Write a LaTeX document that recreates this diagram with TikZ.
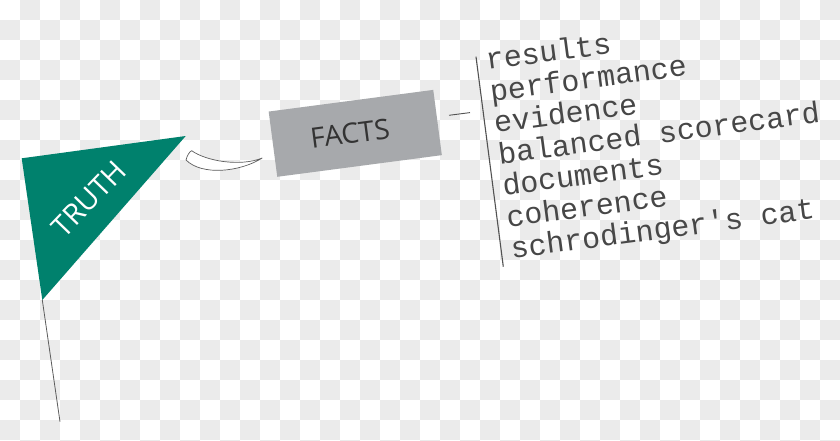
\documentclass[tikz,border=0pt]{standalone}
\usepackage{fontspec}
\setmainfont{Open Sans}
\newfontfamily\listfont{Liberation Mono}[Ligatures=TeXOff]
\definecolor{teal}{HTML}{00816D}
\definecolor{boxgray}{HTML}{A7A9AC}
\definecolor{checker}{HTML}{EBEBEB}
\definecolor{ink}{HTML}{333333}
\tikzset{
  listline/.style={anchor=base west, inner sep=0pt, text=ink!90, transform shape,
    font=\listfont\fontsize{30}{31}\selectfont},
  thinline/.style={draw=ink!85, line width=0.9pt},
}
\begin{document}
\begin{tikzpicture}[x=1pt,y=-1pt]
\useasboundingbox (0,0) rectangle (840,441);
% checkerboard background
\fill[white] (0,0) rectangle (840,441);
\begin{scope}
\clip (0,0) rectangle (840,441);
\foreach \i in {0,...,41}{
  \foreach \j in {0,...,22}{
    \ifodd\numexpr\i+\j\relax
      \fill[checker] (\i*20,\j*20) rectangle ++(20,20);
    \fi
  }
}
\end{scope}
% flag
\coordinate (ftl) at (21.7,158.3);
\coordinate (ftip) at (185.7,136);
\coordinate (fbot) at (42.3,300);
\coordinate (pole) at (60,421.7);
\fill[teal] (ftl) -- (ftip) -- (fbot) -- cycle;
\draw[draw=ink!80, line width=0.8pt] (fbot) -- (pole);
\node[text=white, rotate=46, font=\fontsize{29}{32}\selectfont, inner sep=0pt] (truth) at (89,199) {TRUTH};
% crescent connector
\draw[draw=ink!80, line width=0.7pt, fill=white]
  (191.7,150.7) .. controls (206,161) and (240,167) .. (262.3,158)
  .. controls (240,172) and (202,176) .. (186,160)
  .. controls (187,156) and (189,152) .. (191.7,150.7) -- cycle;
% facts box
\node[fill=boxgray, rotate=7.5, minimum width=166, minimum height=65.8, inner sep=0pt] (facts) at (355.25,133.35) {};
\node[text=ink, rotate=7.5, font=\fontsize{28}{32}\selectfont, inner sep=0pt] (factslabel) at (350,133.5) {FACTS};
% dash
\coordinate (dashA) at (449,115.3);
\coordinate (dashB) at (470,112.6);
\draw[thinline] (dashA) -- (dashB);
% bar
\coordinate (barT) at (476,56.7);
\coordinate (barB) at (503.3,266.7);
\draw[thinline, line width=1.1pt] (barT) -- (barB);
% list
\begin{scope}[shift={(487,70)}, rotate=7.5]
\node[listline] (l1) at (0,0) {results};
\node[listline] (l2) at (0,31.7) {performance};
\node[listline] (l3) at (0,63.4) {evidence};
\node[listline] (l4) at (0,95.1) {balanced scorecard};
\node[listline] (l5) at (0,126.8) {documents};
\node[listline] (l6) at (0,158.5) {coherence};
\node[listline] (l7) at (0,190.2) {schrodinger's cat};
\end{scope}
\end{tikzpicture}
\end{document}
